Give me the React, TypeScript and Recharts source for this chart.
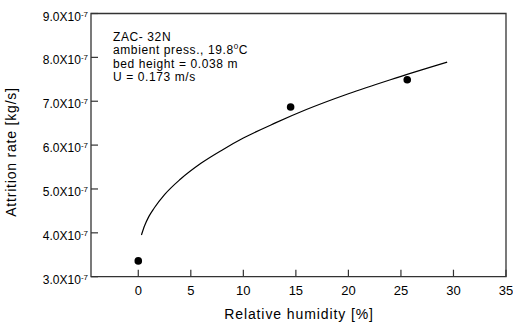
import React from "react";
import {
  ComposedChart,
  XAxis,
  YAxis,
  Line,
  Scatter,
  ReferenceArea,
  Customized,
} from "recharts";

const humidity = [0, 14.5, 25.6];
const attrition = [3.36e-7, 6.87e-7, 7.49e-7];

const fitHumidity = [0.3, 0.6, 1, 1.5, 2.5, 4, 6, 8, 10, 13, 16, 20, 24, 29.4];
const fitAttrition = [
  3.95e-7, 4.16e-7, 4.37e-7, 4.56e-7, 4.87e-7, 5.22e-7, 5.59e-7, 5.89e-7, 6.16e-7, 6.5e-7,
  6.81e-7, 7.17e-7, 7.49e-7, 7.89e-7,
];

const xTicks = [0, 5, 10, 15, 20, 25, 30, 35];
const yTicks = [3e-7, 4e-7, 5e-7, 6e-7, 7e-7, 8e-7, 9e-7];

const annotation = ["ZAC- 32N", "ambient press., 19.8", "bed height = 0.038 m", "U = 0.173 m/s"];

const pointData = humidity.map((x, i) => ({ x, y: attrition[i] }));
const fitData = fitHumidity.map((x, i) => ({ x, y: fitAttrition[i] }));

const FONT = "'Liberation Sans', Arial, sans-serif";
const AXIS = "#333";

const XTick = (props: any) => {
  const { x, y, payload } = props;
  return (
    <g>
      <line x1={x} y1={y} x2={x} y2={y - 7} stroke={AXIS} strokeWidth={1.2} />
      <text x={x} y={y + 18.5} textAnchor="middle" fontSize={13} fontFamily={FONT} fill="#000">
        {payload.value}
      </text>
    </g>
  );
};

const YTick = (props: any) => {
  const { x, y, payload } = props;
  const m = (payload.value * 1e7).toFixed(1);
  return (
    <g>
      <line x1={x} y1={y} x2={x + 7} y2={y} stroke={AXIS} strokeWidth={1.2} />
      <text x={x - 3} y={y + 7} textAnchor="end" fontSize={12} fontFamily={FONT} fill="#000">
        <tspan>{m}X10</tspan>
        <tspan dy={-4} fontSize={8}>-7</tspan>
      </text>
    </g>
  );
};

const Dot = (props: any) => {
  const { cx, cy } = props;
  return <circle cx={cx} cy={cy} r={3.8} fill="#000" />;
};

const Texts = () => (
  <g fontFamily={FONT} fill="#000">
    <text x={113} y={40.7} fontSize={12} letterSpacing={0.6}>{annotation[0]}</text>
    <text x={113} y={54.2} fontSize={12} letterSpacing={0.6}>
      {annotation[1]}
      <tspan dy={-5} fontSize={8}>0</tspan>
      <tspan dy={5}>C</tspan>
    </text>
    <text x={113} y={67.6} fontSize={12} letterSpacing={0.6}>{annotation[2]}</text>
    <text x={113} y={81} fontSize={12} letterSpacing={0.6}>{annotation[3]}</text>
    <text x={299} y={319} textAnchor="middle" fontSize={14} letterSpacing={0.9}>
      Relative humidity [%]
    </text>
    <text
      x={0}
      y={0}
      transform="translate(16,152) rotate(-90)"
      textAnchor="middle"
      fontSize={14}
      letterSpacing={0.8}
    >
      Attrition rate [kg/s]
    </text>
  </g>
);

export default function App() {
  return (
    <div style={{ position: "absolute", left: 0, top: 0, background: "#fff" }}>
      <ComposedChart
        width={513}
        height={325}
        margin={{ top: 13.5, right: 7, bottom: 18.3, left: 0 }}
      >
        <XAxis
          dataKey="x"
          type="number"
          domain={[-4.5, 35]}
          ticks={xTicks}
          allowDataOverflow
          height={30}
          tickSize={0}
          tickMargin={0}
          tickLine={false}
          axisLine={false}
          tick={<XTick />}
          interval={0}
        />
        <YAxis
          type="number"
          domain={[3e-7, 9e-7]}
          ticks={yTicks}
          allowDataOverflow
          width={91}
          tickSize={0}
          tickMargin={0}
          tickLine={false}
          axisLine={false}
          tick={<YTick />}
          interval={0}
        />
        <ReferenceArea
          x1={-4.5}
          x2={35}
          y1={3e-7}
          y2={9e-7}
          fill="none"
          fillOpacity={0}
          stroke={AXIS}
          strokeWidth={1.3}
        />
        <Line
          data={fitData}
          dataKey="y"
          type="monotone"
          stroke="#000"
          strokeWidth={1.2}
          dot={false}
          activeDot={false}
          isAnimationActive={false}
        />
        <Scatter data={pointData} dataKey="y" shape={<Dot />} isAnimationActive={false} />
        <Customized component={Texts} />
      </ComposedChart>
    </div>
  );
}
